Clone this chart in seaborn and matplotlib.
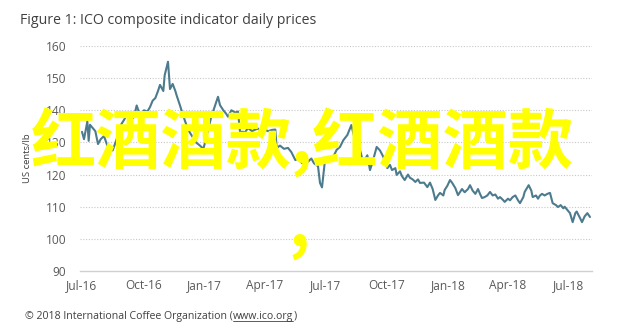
import numpy as np
import pandas as pd
import matplotlib
matplotlib.use("Agg")
import matplotlib.pyplot as plt
import matplotlib.dates as mdates
from matplotlib.lines import Line2D
import seaborn as sns

# ---- data ----
start_date = "2016-07-01"
days = [0, 3, 8, 10, 12, 16, 20, 24, 28, 33, 38, 42, 46, 52, 57, 63, 69, 74, 78, 82,
        87, 93, 98, 102, 106, 110, 114, 117, 122, 124, 129, 132, 136, 140, 142, 147, 150, 154, 159, 165,
        171, 177, 182, 186, 189, 194, 200, 204, 207, 212, 216, 219, 224, 230, 234, 237, 242, 244, 249, 255,
        260, 264, 270, 274, 279, 285, 290, 292, 297, 303, 309, 314, 320, 324, 330, 334, 339, 344, 348, 354,
        357, 360, 364, 369, 374, 378, 382, 387, 392, 398, 404, 408, 414, 420, 424, 428, 432, 436, 442, 447,
        452, 458, 462, 465, 470, 472, 477, 480, 484, 489, 492, 496, 500, 504, 507, 513, 518, 522, 526, 530,
        534, 537, 542, 544, 548, 552, 555, 560, 564, 570, 574, 579, 582, 586, 590, 594, 597, 600, 604, 608,
        612, 616, 620, 624, 627, 632, 634, 639, 642, 646, 650, 654, 657, 662, 664, 668, 670, 674, 676, 681,
        684, 687, 690, 694, 698, 702, 706, 711, 714, 718, 722, 724, 728, 732, 736, 740, 742, 747, 750, 754,
        758, 762]
prices = [133.3, 131.0, 136.5, 130.5, 135.5, 134.5, 133.5, 129.5, 131.0, 132.0, 129.0, 128.0, 127.5, 131.0, 135.0, 137.0, 139.3, 137.0, 138.0, 141.5,
          138.5, 140.0, 139.6, 141.0, 143.0, 143.8, 146.0, 147.9, 146.0, 150.9, 155.1, 146.6, 148.2, 146.0, 144.6, 141.5, 139.5, 137.0, 134.0, 132.0,
          130.0, 129.0, 128.0, 131.0, 134.0, 138.0, 141.7, 144.2, 141.6, 140.0, 139.0, 138.0, 140.0, 139.3, 139.6, 133.3, 133.3, 133.0, 134.5, 133.5,
          134.0, 134.3, 133.5, 134.0, 133.5, 133.9, 134.0, 128.3, 129.0, 128.0, 128.3, 127.0, 124.5, 125.0, 123.6, 124.5, 124.0, 125.0, 123.5, 122.6,
          117.4, 116.0, 123.6, 125.5, 124.5, 126.0, 127.7, 128.6, 130.7, 132.3, 135.4, 132.0, 130.0, 125.2, 124.5, 126.0, 121.4, 124.0, 128.6, 127.5,
          125.5, 122.0, 123.0, 121.4, 122.0, 119.9, 121.0, 119.5, 118.3, 120.0, 119.0, 118.5, 117.7, 118.5, 117.4, 117.5, 116.1, 117.5, 115.5, 112.1,
          113.5, 114.3, 113.5, 115.2, 116.5, 118.3, 117.5, 115.8, 113.6, 115.5, 114.5, 115.5, 116.7, 115.0, 114.0, 115.5, 114.0, 112.7, 113.0, 113.5,
          114.6, 113.5, 113.8, 112.5, 113.0, 112.0, 111.5, 112.5, 112.0, 113.0, 113.5, 112.0, 111.1, 113.0, 114.6, 116.0, 116.7, 115.0, 113.0, 113.5,
          112.5, 113.5, 114.0, 113.5, 114.0, 114.3, 111.1, 110.5, 109.9, 110.5, 109.5, 110.0, 109.0, 108.0, 105.2, 108.0, 108.5, 106.5, 105.2, 107.0,
          108.0, 106.8]
y_ticks = [90, 100, 110, 120, 130, 140, 150, 160]
x_tick_dates = ["2016-07-01", "2016-10-01", "2017-01-01", "2017-04-01", "2017-07-01",
                "2017-10-01", "2018-01-01", "2018-04-01", "2018-07-01"]
x_tick_labels = ["Jul-16", "Oct-16", "Jan-17", "Apr-17", "Jul-17", "Oct-17", "Jan-18", "Apr-18", "Jul-18"]
title = "Figure 1: ICO composite indicator daily prices"
ylabel = "US cents/lb"
footer_a = "\u00a9 2018 International Coffee Organization ("
footer_link = "www.ico.org"
footer_b = ")"
overlay = "红酒酒款,红酒酒款"
overlay2 = ","

df = pd.DataFrame({
    "date": pd.Timestamp(start_date) + pd.to_timedelta(days, unit="D"),
    "price": prices,
})

sns.set_theme(style="white")
plt.rcParams["font.family"] = ["Open Sans", "DejaVu Sans"]

fig = plt.figure(figsize=(6.44, 3.33), dpi=100)
ax = fig.add_axes([80 / 644, 1 - 271 / 333, (592 - 80) / 644, (271 - 46) / 333])

sns.lineplot(data=df, x="date", y="price", ax=ax, color="#4d7b8e", linewidth=1.5)

ax.set_ylim(90, 160)
ax.set_xlim(pd.Timestamp(start_date) - pd.Timedelta(days=3), pd.Timestamp(start_date) + pd.Timedelta(days=765))
ax.set_yticks(y_ticks)
ax.set_yticklabels([str(v) for v in y_ticks])
ax.set_xticks([pd.Timestamp(d) for d in x_tick_dates])
ax.set_xticklabels(x_tick_labels)
ax.tick_params(axis="both", length=0, labelsize=8.6, colors="#595959")
ax.tick_params(axis="x", pad=6)
ax.tick_params(axis="y", pad=10)
for v in y_ticks[1:]:
    ax.axhline(v, color="#c8c8c8", linewidth=0.8, linestyle=(0, (1, 1.5)), zorder=0)
for s in ["top", "right", "left"]:
    ax.spines[s].set_visible(False)
ax.spines["bottom"].set_color("#d0d0d0")
ax.spines["bottom"].set_linewidth(1.0)
ax.set_xlabel("")
ax.set_ylabel("")

fig.text(20 / 644, 1 - 20 / 333, title, fontsize=10.2, color="#404040", va="center", ha="left")
fig.text(27 / 644, 1 - 158 / 333, ylabel, fontsize=6.8, color="#404040", rotation=90, va="center", ha="center")

fs_footer = 7.6
t1 = fig.text(25 / 644, 1 - 316 / 333, footer_a, fontsize=fs_footer, color="#404040", va="center", ha="left")
fig.canvas.draw()
r = fig.canvas.get_renderer()
bb = t1.get_window_extent(r)
t2 = fig.text(bb.x1 / 644, 1 - 316 / 333, footer_link, fontsize=fs_footer, color="#404040", va="center", ha="left")
bb2 = t2.get_window_extent(r)
fig.text(bb2.x1 / 644, 1 - 316 / 333, footer_b, fontsize=fs_footer, color="#404040", va="center", ha="left")
fig.add_artist(Line2D([bb2.x0 / 644, bb2.x1 / 644], [(bb2.y0 + 0.5) / 333] * 2, color="#404040", linewidth=0.6))

fig.text(302 / 644, 1 - 143 / 333, overlay, fontsize=47, color="#ffff00", fontweight="bold",
         family=["Noto Sans CJK SC", "DejaVu Sans"], va="center", ha="center")
fig.text(299 / 644, 1 - 226 / 333, overlay2, fontsize=47, color="#ffff00", fontweight="bold",
         family=["Noto Sans CJK SC", "DejaVu Sans"], va="center", ha="center")

fig.savefig("out.png", dpi=100)
